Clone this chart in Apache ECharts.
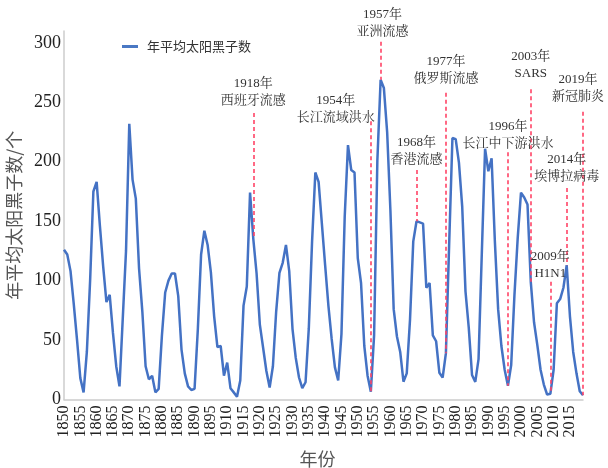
<!DOCTYPE html>
<html><head><meta charset="utf-8">
<script src="https://cdn.jsdelivr.net/npm/echarts@6/dist/echarts.min.js"></script>
<style>html,body{margin:0;padding:0;background:#fff}#c{width:608px;height:468px}</style>
</head><body><div id="c"></div>
<script>
// categories (the source data skips 1900-1909)
const yearsA = [1850,1851,1852,1853,1854,1855,1856,1857,1858,1859,
  1860,1861,1862,1863,1864,1865,1866,1867,1868,1869,
  1870,1871,1872,1873,1874,1875,1876,1877,1878,1879,
  1880,1881,1882,1883,1884,1885,1886,1887,1888,1889,
  1890,1891,1892,1893,1894,1895,1896,1897,1898,1899];
const yearsB = [1910,1911,1912,1913,1914,1915,1916,1917,1918,1919,
  1920,1921,1922,1923,1924,1925,1926,1927,1928,1929,
  1930,1931,1932,1933,1934,1935,1936,1937,1938,1939,
  1940,1941,1942,1943,1944,1945,1946,1947,1948,1949,
  1950,1951,1952,1953,1954,1955,1956,1957,1958,1959,
  1960,1961,1962,1963,1964,1965,1966,1967,1968,1969,
  1970,1971,1972,1973,1974,1975,1976,1977,1978,1979,
  1980,1981,1982,1983,1984,1985,1986,1987,1988,1989,
  1990,1991,1992,1993,1994,1995,1996,1997,1998,1999,
  2000,2001,2002,2003,2004,2005,2006,2007,2008,2009,
  2010,2011,2012,2013,2014,2015,2016,2017,2018,2019];
// yearly mean sunspot numbers
const valuesA = [126,122,108,80,50,18,6,40,100,175,
  183,146,112,82,88,56,28,11,68,125,
  232,185,169,110,74,28,17,20,6,9,
  54,90,100,106,106,87,42,22,11,8,
  9,59,122,142,130,107,70,44,45,20];
const valuesB = [31,9.5,6,2.4,16,79,95,174,135,106,
  63,43.5,24,10,28,74,106.5,115,130,108,
  59.5,35,18.5,9.5,14.5,60,133,191,183,148,
  113,79,51,27,16,55,154,214,193,191,
  119,98,45,20,6.6,54,201,269,262,225,
  159,76,53,40,15,22,67,133,150,149,
  148,94,98,54,49,22.5,18.4,39,131,220,
  219,199,162,91,60.5,20.6,14.8,34,123,211,
  192,203,133,76,45,25,11.6,29,88,136,
  174,170,164,99,65,46,25,12.6,4.2,4.8,
  25,81,84.5,94,113,70,40,22,7,3.6];
const yTicks = [0,50,100,150,200,250,300];
// events
const eventYears = ['1918','1954','1957','1968','1977','1996','2003','2009','2014','2019'];
const eventNames = ['西班牙流感','长江流域洪水','亚洲流感','香港流感','俄罗斯流感','长江中下游洪水','SARS','H1N1','埃博拉病毒','新冠肺炎'];

// layout settings (value-axis heights of dashed-line tops and label bases)
const lineTop   = [241,234,301,193,258,208,261,99,178,242];
const labelBase = [244,230,302,194,262,208,267,98,180,247];
const labelShift = [0,-35,2,0,0,0,0,0,0,-5];

const categories = yearsA.concat(yearsB).map(String);
const values = valuesA.concat(valuesB);

const serif = "'Liberation Serif','Noto Serif CJK SC','Noto Sans CJK SC',serif";

const mlData = eventYears.map((y, i) => [
  {coord: [y, lineTop[i]]},
  {coord: [y, values[categories.indexOf(y)]]}
]);
const mpData = eventYears.map((y, i) => ({
  coord: [y, labelBase[i]],
  label: {formatter: y + '年\n' + eventNames[i], offset: [labelShift[i], 0]}
}));

const chart = echarts.init(document.getElementById('c'), null, {renderer: 'canvas'});
chart.setOption({
  animation: false,
  backgroundColor: '#fff',
  grid: {left: 64, right: 25, top: 31, bottom: 68.5, containLabel: false, outerBoundsMode: 'none'},
  legend: {
    show: true, left: 122, top: 40, padding: 0,
    icon: 'rect', itemWidth: 16, itemHeight: 3,
    itemStyle: {color: '#4a78c4'},
    textStyle: {fontSize: 13, color: '#333', fontFamily: "'Noto Sans CJK SC',sans-serif", padding: [0,0,0,4]},
    data: ['年平均太阳黑子数']
  },
  xAxis: {
    type: 'category', data: categories, boundaryGap: false,
    name: '年份', nameLocation: 'middle', nameGap: 51,
    nameTextStyle: {fontSize: 18, color: '#555', fontFamily: "'Noto Sans CJK SC',sans-serif", padding: [0,12,0,0]},
    axisLine: {show: true, lineStyle: {color: '#cccccc', width: 1.5}},
    axisTick: {show: false},
    splitLine: {show: false},
    axisLabel: {interval: 4, rotate: 90, margin: 6, fontSize: 16, color: '#222', fontFamily: serif}
  },
  yAxis: {
    type: 'value', min: 0, max: 310, interval: 50,
    name: '年平均太阳黑子数/个', nameLocation: 'middle', nameGap: 39,
    nameTextStyle: {fontSize: 18, color: '#555', fontFamily: "'Noto Sans CJK SC',sans-serif"},
    axisLine: {show: true, lineStyle: {color: '#cccccc', width: 1.5}},
    axisTick: {show: false},
    splitLine: {show: false},
    axisLabel: {
      margin: 3, fontSize: 18, color: '#222', fontFamily: serif,
      formatter: v => (yTicks.indexOf(v) >= 0 ? String(v) : '')
    }
  },
  series: [{
    name: '年平均太阳黑子数', type: 'line', data: values,
    symbol: 'none', clip: false,
    lineStyle: {color: '#4472c4', width: 2.5},
    itemStyle: {color: '#4472c4'},
    markLine: {
      silent: true, symbol: ['none', 'none'], animation: false,
      label: {show: false},
      lineStyle: {color: '#ff4466', type: [4, 3], width: 1.6},
      data: mlData
    },
    markPoint: {
      silent: true, symbol: 'circle', symbolSize: 1, animation: false,
      itemStyle: {color: 'rgba(0,0,0,0)'},
      label: {show: true, position: 'top', distance: 0, fontSize: 13, lineHeight: 17, color: '#333', fontFamily: serif},
      data: mpData
    }
  }]
});
</script></body></html>
